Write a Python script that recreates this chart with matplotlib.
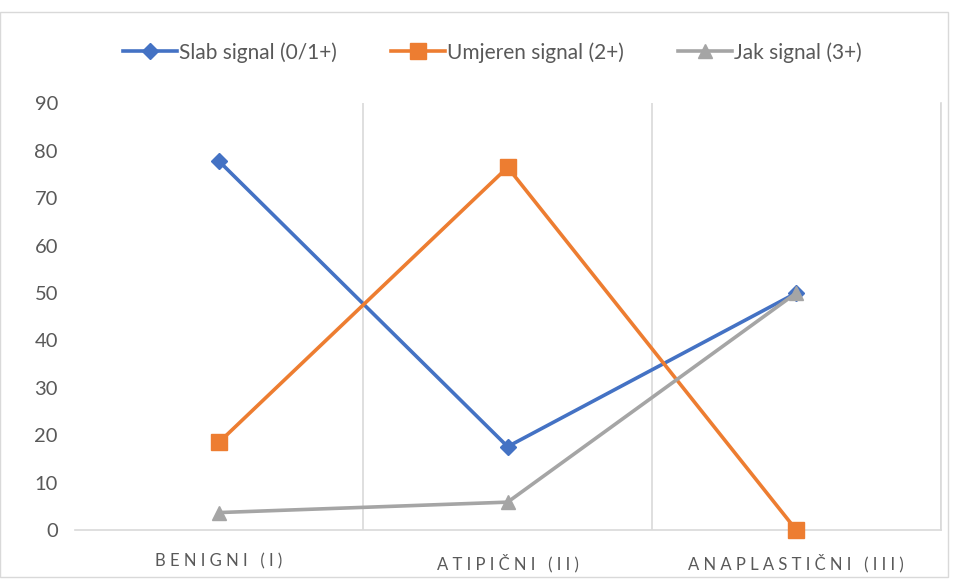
import numpy as np
import matplotlib.pyplot as plt
from matplotlib.patches import Rectangle

plt.rcParams['font.family'] = ['Lato', 'DejaVu Sans']

categories = ['BENIGNI (I)', 'ATIPIČNI (II)', 'ANAPLASTIČNI (III)']
slab = [77.8, 17.6, 50.0]
umjeren = [18.5, 76.5, 0.0]
jak = [3.7, 5.9, 50.0]
y_ticks = list(range(0, 91, 10))

fig = plt.figure(figsize=(9.56, 5.8), dpi=100)
ax = fig.add_axes([0.078, 0.086, 0.906, 0.736])

x = np.arange(len(categories))
ax.plot(x, slab, color='#4472C4', lw=2.6, marker='D', ms=8, label='Slab signal (0/1+)', zorder=3, clip_on=False)
ax.plot(x, umjeren, color='#ED7D31', lw=2.6, marker='s', ms=11, label='Umjeren signal (2+)', zorder=3, clip_on=False)
ax.plot(x, jak, color='#A5A5A5', lw=2.6, marker='^', ms=10, label='Jak signal (3+)', zorder=3, clip_on=False)

ax.set_xlim(-0.5, len(categories) - 0.5)
ax.set_ylim(0, 90)
ax.set_yticks(y_ticks)
ax.set_yticklabels([str(t) for t in y_ticks], fontsize=14.5, color='#595959')
ax.set_xticks(x)
# letter-spaced category labels, as in the original
spaced = ['\u2009\u2009'.join(c) for c in categories]
ax.set_xticklabels(spaced, fontsize=12, color='#595959')
ax.tick_params(length=0)
ax.tick_params(axis='x', pad=17)
ax.tick_params(axis='y', pad=12)

# vertical gridlines between categories
for b in np.arange(0.5, len(categories) - 0.4, 1.0):
    ax.axvline(b, color='#D9D9D9', lw=1.2, zorder=1)

for s in ['top', 'left']:
    ax.spines[s].set_visible(False)
ax.spines['right'].set_color('#D9D9D9')
ax.spines['bottom'].set_color('#D9D9D9')
ax.spines['right'].set_linewidth(1.2)
ax.spines['bottom'].set_linewidth(1.2)

fig.legend(loc='upper center', bbox_to_anchor=(0.515, 0.96), ncol=3, frameon=False,
           fontsize=15, handlelength=2.6, columnspacing=2.6, handletextpad=0.1,
           labelcolor='#595959')

# chart border
fig.patches.append(Rectangle((0.0, 0.005), 0.992, 0.975, transform=fig.transFigure,
                             fill=False, edgecolor='#D9D9D9', lw=1))

fig.savefig('out.png', dpi=100)
